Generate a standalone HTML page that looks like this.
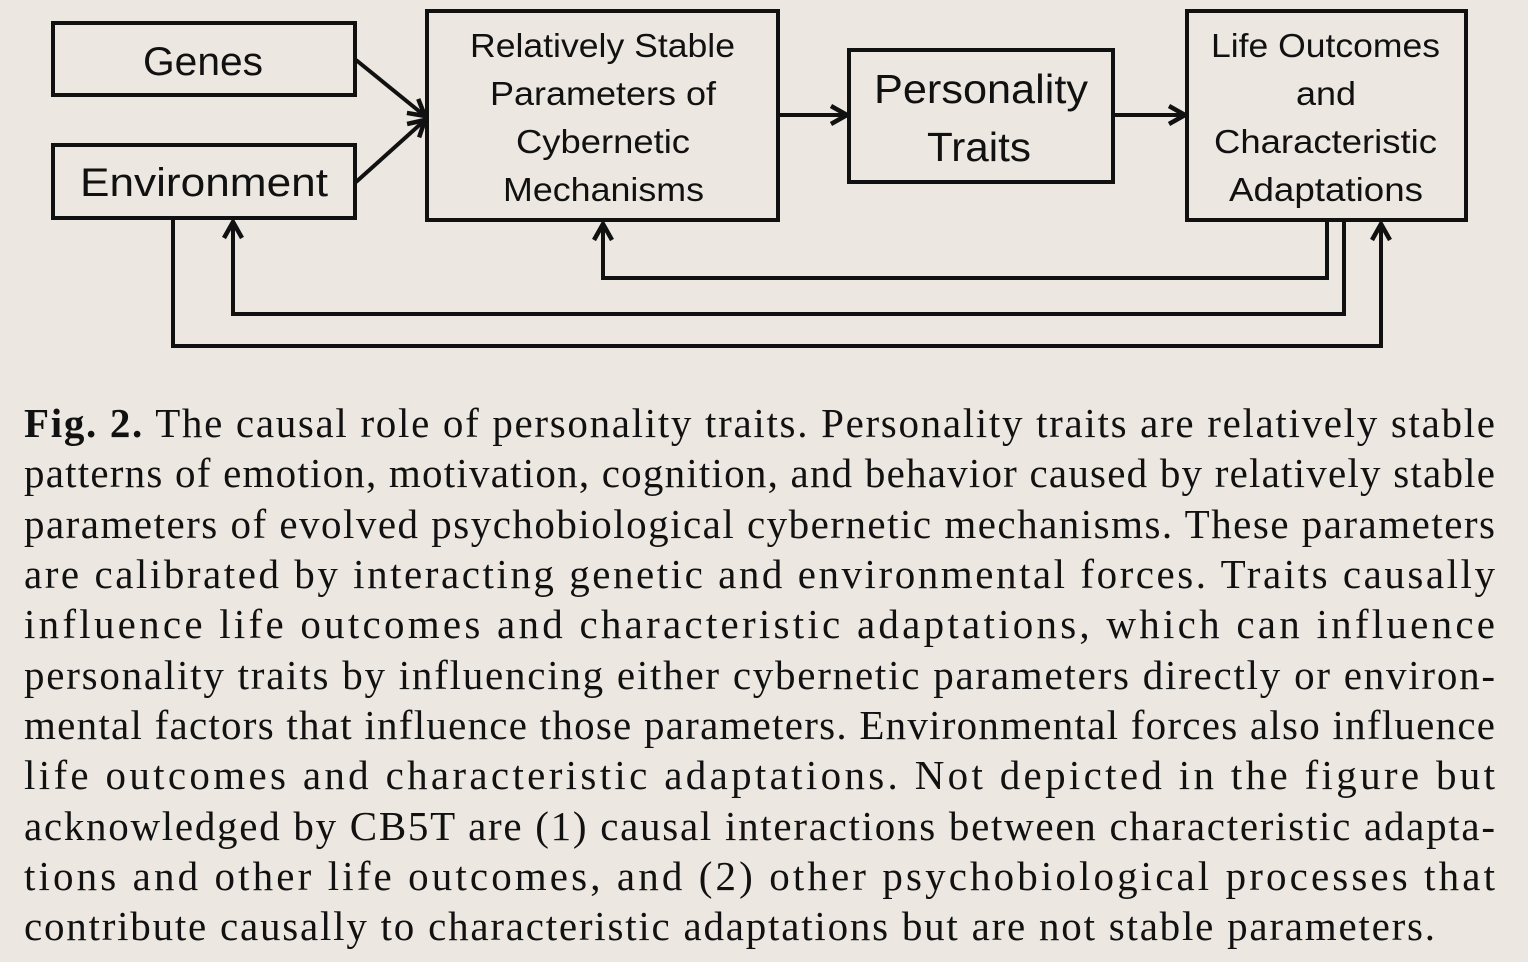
<!DOCTYPE html>
<html><head><meta charset="utf-8"><style>
html,body{margin:0;padding:0;background:#ece8e1;}
svg{display:block;}
.d{font-family:"Liberation Sans",sans-serif;fill:#111;}
.c{font-family:"Liberation Serif",serif;font-size:41px;fill:#111;}
</style></head><body>
<svg width="1528" height="962" viewBox="0 0 1528 962">
<rect width="1528" height="962" fill="#ece8e1"/>
<defs>
<marker id="ah2" markerWidth="24" markerHeight="24" refX="20" refY="12" orient="auto" markerUnits="userSpaceOnUse" viewBox="0 0 24 24"><path d="M4,3 L20,12 L4,21" fill="none" stroke="#111" stroke-width="4.5"/></marker></defs>
<g fill="none" stroke="#111" stroke-width="4">
<rect x="53" y="23" width="302" height="72"/>
<rect x="53" y="145" width="302" height="73"/>
<rect x="427" y="11" width="351" height="209"/>
<rect x="849" y="50" width="264" height="132"/>
<rect x="1187" y="11" width="279" height="209"/>
<g marker-end="url(#ah2)">
<path d="M356,60 L425,116"/>
<path d="M356,182 L425,120"/>
<path d="M778,115 L847,115"/>
<path d="M1113,115 L1185,115"/>
<path d="M1327,220 L1327,278 L603,278 L603,224"/>
<path d="M1344,220 L1344,314 L233,314 L233,222"/>
<path d="M173,218 L173,346 L1381,346 L1381,224"/>
</g></g>
<g class="d">
<text x="143" y="75" font-size="40" textLength="120" lengthAdjust="spacingAndGlyphs">Genes</text>
<text x="80" y="196" font-size="40" textLength="248" lengthAdjust="spacingAndGlyphs">Environment</text>
<text x="470" y="57" font-size="33" textLength="265" lengthAdjust="spacingAndGlyphs">Relatively Stable</text>
<text x="490" y="105" font-size="33" textLength="226" lengthAdjust="spacingAndGlyphs">Parameters of</text>
<text x="516" y="153" font-size="33" textLength="174" lengthAdjust="spacingAndGlyphs">Cybernetic</text>
<text x="503" y="201" font-size="33" textLength="201" lengthAdjust="spacingAndGlyphs">Mechanisms</text>
<text x="874" y="103" font-size="41" textLength="214" lengthAdjust="spacingAndGlyphs">Personality</text>
<text x="927" y="161" font-size="41" textLength="104" lengthAdjust="spacingAndGlyphs">Traits</text>
<text x="1211" y="57" font-size="33" textLength="229" lengthAdjust="spacingAndGlyphs">Life Outcomes</text>
<text x="1296" y="105" font-size="33" textLength="60" lengthAdjust="spacingAndGlyphs">and</text>
<text x="1214" y="153" font-size="33" textLength="223" lengthAdjust="spacingAndGlyphs">Characteristic</text>
<text x="1229" y="201" font-size="33" textLength="194" lengthAdjust="spacingAndGlyphs">Adaptations</text>
</g>
<g class="c">
<text x="24" y="437" textLength="1471" lengthAdjust="spacing"><tspan font-weight="bold">Fig. 2.</tspan> The causal role of personality traits. Personality traits are relatively stable</text>
<text x="24" y="487" textLength="1471" lengthAdjust="spacing">patterns of emotion, motivation, cognition, and behavior caused by relatively stable</text>
<text x="24" y="538" textLength="1471" lengthAdjust="spacing">parameters of evolved psychobiological cybernetic mechanisms. These parameters</text>
<text x="24" y="588" textLength="1471" lengthAdjust="spacing">are calibrated by interacting genetic and environmental forces. Traits causally</text>
<text x="24" y="638" textLength="1471" lengthAdjust="spacing">influence life outcomes and characteristic adaptations, which can influence</text>
<text x="24" y="689" textLength="1471" lengthAdjust="spacing">personality traits by influencing either cybernetic parameters directly or environ-</text>
<text x="24" y="739" textLength="1471" lengthAdjust="spacing">mental factors that influence those parameters. Environmental forces also influence</text>
<text x="24" y="789" textLength="1471" lengthAdjust="spacing">life outcomes and characteristic adaptations. Not depicted in the figure but</text>
<text x="24" y="840" textLength="1471" lengthAdjust="spacing">acknowledged by CB5T are (1) causal interactions between characteristic adapta-</text>
<text x="24" y="890" textLength="1471" lengthAdjust="spacing">tions and other life outcomes, and (2) other psychobiological processes that</text>
<text x="24" y="940" textLength="1411" lengthAdjust="spacing">contribute causally to characteristic adaptations but are not stable parameters.</text>
</g>
</svg>
</body></html>
